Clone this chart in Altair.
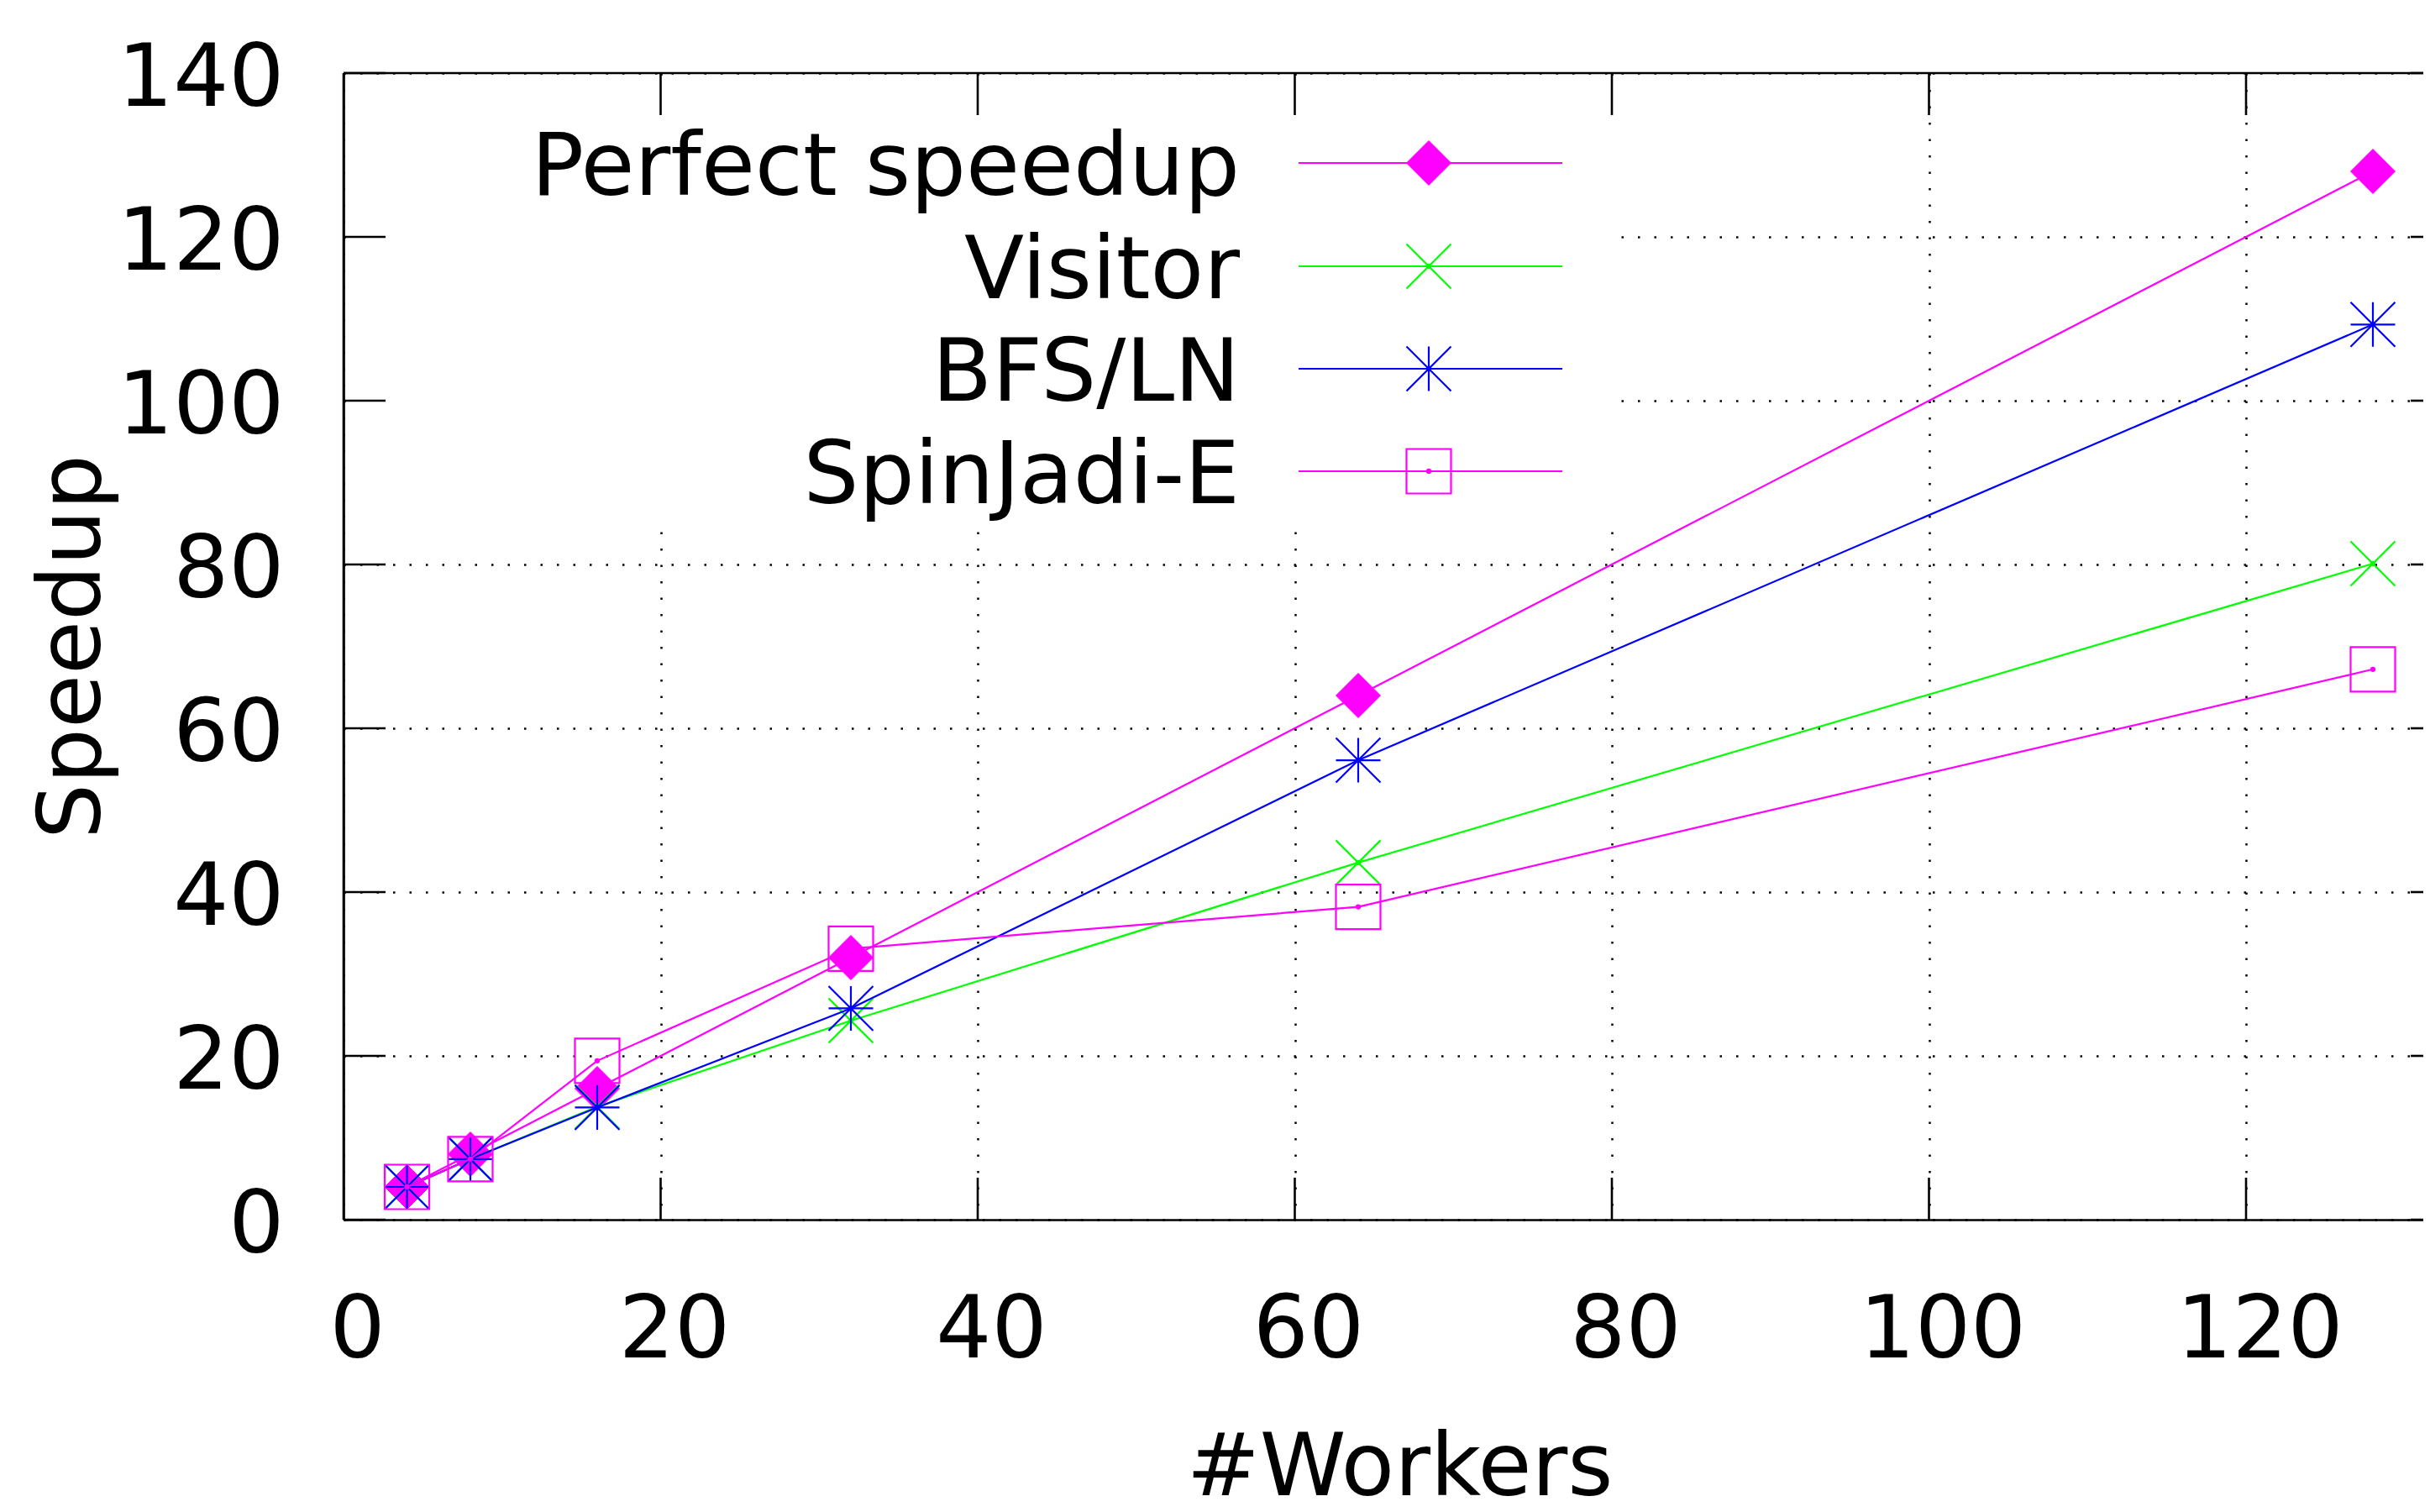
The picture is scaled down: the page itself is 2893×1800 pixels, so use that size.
import altair as alt
import pandas as pd

# ---- data ----
workers = [4, 8, 16, 32, 64, 128]
perfect = [4, 8, 16, 32, 64, 128]
visitor = [4.0, 7.4, 13.8, 24.3, 43.6, 80.1]
bfs_ln = [4.0, 7.4, 13.7, 25.8, 56.1, 109.3]
spinjadi = [4.0, 7.4, 19.4, 33.1, 38.2, 67.2]

series_names = ["Perfect speedup", "Visitor", "BFS/LN", "SpinJadi-E"]
series_values = [perfect, visitor, bfs_ln, spinjadi]

x_ticks = [0, 20, 40, 60, 80, 100, 120]
y_ticks = [0, 20, 40, 60, 80, 100, 120, 140]

# ---- styles / layout ----
series_colors = ["#ff00ff", "#00ff00", "#0000ff", "#ff00ff"]
X_SHAPE = "M-1,-1L1,1M-1,1L1,-1"
STAR_SHAPE = "M-1,-1L1,1M-1,1L1,-1M0,-1L0,1M-1,0L1,0"
series_shapes = ["diamond", X_SHAPE, STAR_SHAPE, "square"]
series_filled = [True, False, False, False]

W, H = 2476, 1365
PX_PER_UNIT = 18.875
X_MAX = W / PX_PER_UNIT
FONT = "DejaVu Sans"
FS = 104
LW = 2.2
BW = 2.6
MSIZE = 2809
TICK = 50
legend_rows = [107, 230, 352, 474]
LEG_TEXT_X, LEG_L0, LEG_L1, LEG_MARK = 1067, 1137, 1451, 1292

xscale = alt.Scale(domain=[0, X_MAX], nice=False, zero=False)
yscale = alt.Scale(domain=[0, 140], nice=False, zero=False)

x_axis = alt.Axis(
    values=x_ticks, title="#Workers", grid=True, gridDash=[2.5, 17], gridColor="black",
    gridWidth=2.5, gridOpacity=1, ticks=False, tickSize=0, domain=True,
    domainColor="black", domainWidth=BW, labelFont=FONT, labelFontSize=FS,
    labelColor="black", labelPadding=163, labelBaseline="alphabetic", labelLimit=2000,
    labelOffset=16, labelFlush=False, labelOverlap=False, titleFont=FONT,
    titleFontSize=FS, titleFontWeight="normal", titleColor="black", titleX=1257,
    titleY=327, titleBaseline="alphabetic", titleAlign="center", titleLimit=3000,
)
y_axis = alt.Axis(
    values=y_ticks, title="Speedup", grid=True, gridDash=[2.5, 17], gridColor="black",
    gridWidth=2.5, gridOpacity=1, ticks=False, tickSize=0, domain=True,
    domainColor="black", domainWidth=BW, labelFont=FONT, labelFontSize=FS,
    labelColor="black", labelPadding=71, labelBaseline="alphabetic", labelOffset=38,
    labelAlign="right", labelLimit=2000, labelFlush=False, labelOverlap=False,
    titleFont=FONT, titleFontSize=FS, titleFontWeight="normal", titleColor="black",
    titleX=-291, titleY=H / 2, titleAngle=270, titleBaseline="alphabetic",
    titleAlign="center", titleLimit=3000,
)


def X(field):
    return alt.X(field, scale=xscale, axis=x_axis)


def Y(field):
    return alt.Y(field, scale=yscale, axis=y_axis)


one = pd.DataFrame({"a": [0]})
layers = []

# opaque key box (hides grid behind legend)
layers.append(
    alt.Chart(one).mark_rect(color="white").encode(
        x=alt.value(3), x2=alt.value(1513), y=alt.value(3), y2=alt.value(535)
    )
)

for name, vals, color, shape, filled in zip(series_names, series_values, series_colors,
                                            series_shapes, series_filled):
    df = pd.DataFrame({"workers": workers, "speedup": vals, "series": name})
    enc = dict(x=X("workers:Q"), y=Y("speedup:Q"))
    layers.append(alt.Chart(df).mark_line(color=color, strokeWidth=LW).encode(**enc))
    if filled:
        pm = alt.Chart(df).mark_point(shape=shape, size=MSIZE, filled=True, fill=color,
                                      stroke=color, strokeWidth=1, opacity=1)
    else:
        pm = alt.Chart(df).mark_point(shape=shape, size=MSIZE, filled=False, stroke=color,
                                      strokeWidth=LW, opacity=1)
    layers.append(pm.encode(**enc))
    layers.append(alt.Chart(df).mark_circle(size=40, color=color, opacity=1).encode(**enc))

# border and inward ticks (gnuplot style)
rule_style = dict(color="black", strokeWidth=BW)
layers.append(alt.Chart(one).mark_rule(**rule_style).encode(
    x=alt.value(0), x2=alt.value(W), y=alt.value(0)))
layers.append(alt.Chart(one).mark_rule(**rule_style).encode(
    x=alt.value(0), y=alt.value(0), y2=alt.value(H)))
xt = pd.DataFrame({"t": x_ticks[1:]})
yt = pd.DataFrame({"t": y_ticks})
layers.append(alt.Chart(xt).mark_rule(**rule_style).encode(
    x=X("t:Q"), y=alt.value(H), y2=alt.value(H - TICK)))
layers.append(alt.Chart(xt).mark_rule(**rule_style).encode(
    x=X("t:Q"), y=alt.value(0), y2=alt.value(TICK)))
layers.append(alt.Chart(yt).mark_rule(**rule_style).encode(
    y=Y("t:Q"), x=alt.value(0), x2=alt.value(TICK)))
layers.append(alt.Chart(yt).mark_rule(**rule_style).encode(
    y=Y("t:Q"), x=alt.value(W - 15), x2=alt.value(W)))

# key (gnuplot style: text right-aligned, sample to the right)
for name, color, shape, filled, row in zip(series_names, series_colors, series_shapes,
                                           series_filled, legend_rows):
    ldf = pd.DataFrame({"series": [name]})
    layers.append(alt.Chart(ldf).mark_text(
        align="right", baseline="alphabetic", font=FONT, fontSize=FS, color="black"
    ).encode(x=alt.value(LEG_TEXT_X), y=alt.value(row + 38), text="series:N"))
    layers.append(alt.Chart(ldf).mark_rule(color=color, strokeWidth=LW).encode(
        x=alt.value(LEG_L0), x2=alt.value(LEG_L1), y=alt.value(row)))
    if filled:
        pm = alt.Chart(ldf).mark_point(shape=shape, size=MSIZE, filled=True, fill=color,
                                       stroke=color, strokeWidth=1, opacity=1)
    else:
        pm = alt.Chart(ldf).mark_point(shape=shape, size=MSIZE, filled=False, stroke=color,
                                       strokeWidth=LW, opacity=1)
    layers.append(pm.encode(x=alt.value(LEG_MARK), y=alt.value(row)))
    layers.append(alt.Chart(ldf).mark_circle(size=40, color=color, opacity=1).encode(
        x=alt.value(LEG_MARK), y=alt.value(row)))

chart = alt.layer(*layers).properties(
    width=W, height=H,
    autosize=alt.AutoSizeParams(type="none"),
    padding={"left": 401, "top": 79, "right": 0, "bottom": 340},
    background="white",
).configure_view(stroke=None)

chart.save("out.html", embed_options={"renderer": "svg", "actions": False})
